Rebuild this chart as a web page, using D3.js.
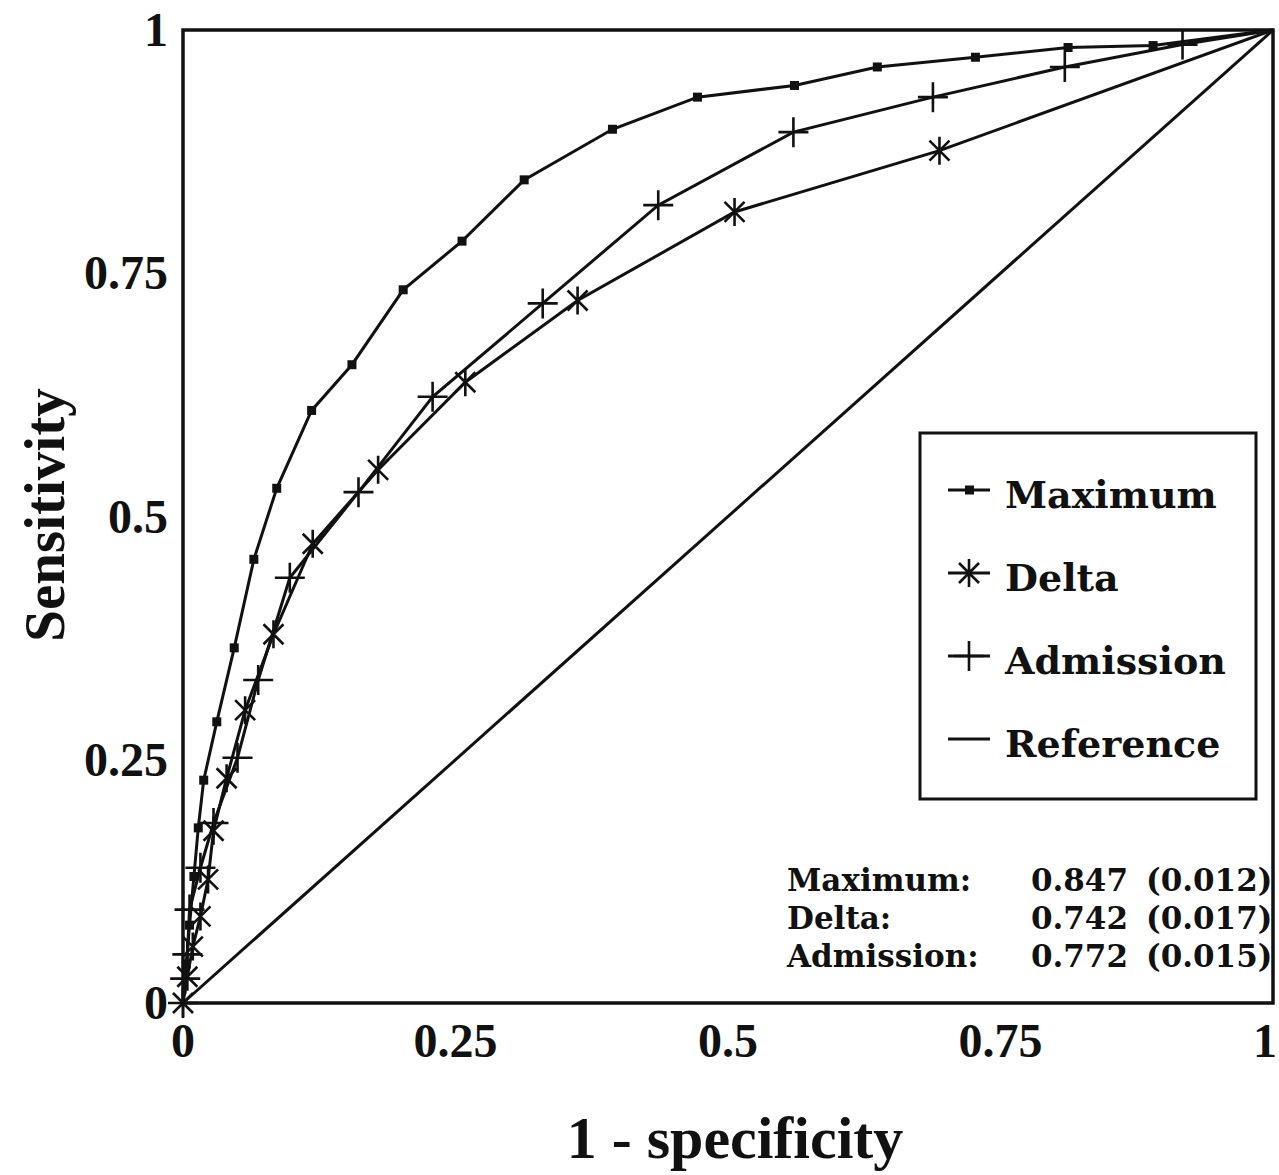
<!DOCTYPE html>
<html>
<head>
<meta charset="utf-8">
<script src="https://cdn.jsdelivr.net/npm/d3@7"></script>
<style>
  body { margin: 0; background: #fff; }
  text { fill: #111; }
  .tick_lbl, .axis_title { font-family: "Liberation Serif", serif; font-weight: bold; }
  .leg_lbl, .auc_lbl { font-family: "DejaVu Serif", serif; font-weight: bold; }
</style>
</head>
<body>
<svg id="chart" width="1279" height="1175"></svg>
<script>
// ROC points (1 - specificity, sensitivity)
var max_fpr = [0, 0.003, 0.006, 0.010, 0.014, 0.019, 0.031, 0.047, 0.065, 0.086, 0.118, 0.155,
               0.202, 0.256, 0.313, 0.394, 0.472, 0.561, 0.637, 0.727, 0.812, 0.890, 1];
var max_tpr = [0, 0.04, 0.08, 0.13, 0.18, 0.229, 0.289, 0.365, 0.456, 0.529, 0.609, 0.656,
               0.733, 0.783, 0.846, 0.898, 0.931, 0.943, 0.962, 0.972, 0.982, 0.984, 1];

var delta_fpr = [0, 0.004, 0.009, 0.016, 0.023, 0.028, 0.040, 0.057, 0.083, 0.119, 0.179,
                 0.259, 0.362, 0.506, 0.694, 1];
var delta_tpr = [0, 0.027, 0.058, 0.089, 0.127, 0.177, 0.231, 0.301, 0.379, 0.472, 0.548,
                 0.638, 0.722, 0.813, 0.876, 1];

var adm_fpr = [0, 0.002, 0.004, 0.006, 0.016, 0.028, 0.050, 0.069, 0.098, 0.161, 0.229,
               0.330, 0.436, 0.560, 0.688, 0.809, 0.917, 1];
var adm_tpr = [0, 0.025, 0.05, 0.096, 0.139, 0.185, 0.252, 0.332, 0.437, 0.525, 0.623,
               0.719, 0.820, 0.895, 0.931, 0.962, 0.985, 1];

var ref_fpr = [0, 1], ref_tpr = [0, 1];

var series_names = ["Maximum", "Delta", "Admission", "Reference"];
var series_marks = ["square", "asterisk", "plus", "none"];
var auc_vals = ["0.847", "0.742", "0.772"];
var auc_se   = ["(0.012)", "(0.017)", "(0.015)"];
var x_ticks = [0, 0.25, 0.5, 0.75, 1];
var y_ticks = [0, 0.25, 0.5, 0.75, 1];
var tick_text = ["0", "0.25", "0.5", "0.75", "1"];

var svg = d3.select("#chart");
var x = d3.scaleLinear().domain([0, 1]).range([183, 1273]),
    y = d3.scaleLinear().domain([0, 1]).range([1003, 30]);

function zip(xs, ys) { return xs.map(function(v, i) { return [v, ys[i]]; }); }
var series = [zip(max_fpr, max_tpr), zip(delta_fpr, delta_tpr),
              zip(adm_fpr, adm_tpr), zip(ref_fpr, ref_tpr)];

// marker path centred on 0,0
function mark_path(kind) {
    var p = d3.path();
    if (kind === "asterisk") {
        var r = 14, d = 10;
        p.moveTo(0, -r); p.lineTo(0, r);
        p.moveTo(-d, -d); p.lineTo(d, d);
        p.moveTo(-d, d); p.lineTo(d, -d);
    } else if (kind === "plus") {
        var r = 15;
        p.moveTo(-r, 0); p.lineTo(r, 0);
        p.moveTo(0, -r); p.lineTo(0, r);
    }
    return p.toString();
}

// frame
svg.append("rect")
    .attr("x", x(0)).attr("y", y(1))
    .attr("width", x(1) - x(0)).attr("height", y(0) - y(1))
    .style("fill", "none").style("stroke", "#111").style("stroke-width", 3.5);

var line = d3.line().x(function(d) { return x(d[0]); }).y(function(d) { return y(d[1]); });

svg.selectAll("path.curve")
    .data(series)
  .enter().append("path")
    .attr("class", "curve")
    .attr("d", line)
    .style("fill", "none").style("stroke", "#111").style("stroke-width", 3);

series.forEach(function(pts, si) {
    var kind = series_marks[si];
    if (kind === "none") return;
    var g = svg.append("g").attr("class", "marks marks" + si);
    if (kind === "square") {
        g.selectAll("rect").data(pts.slice(1, -1)).enter().append("rect")
            .attr("x", function(d) { return x(d[0]) - 4.5; })
            .attr("y", function(d) { return y(d[1]) - 4.5; })
            .attr("width", 9).attr("height", 9)
            .style("fill", "#111");
    } else {
        g.selectAll("path").data(pts.slice(0, -1)).enter().append("path")
            .attr("transform", function(d) { return "translate(" + x(d[0]) + "," + y(d[1]) + ")"; })
            .attr("d", mark_path(kind))
            .style("fill", "none").style("stroke", "#111").style("stroke-width", 2.6);
    }
});

// tick labels (last x label nudged in so it stays on the page)
svg.selectAll("text.xt").data(x_ticks).enter().append("text")
    .attr("class", "tick_lbl xt")
    .attr("x", function(d) { return Math.min(x(d), 1265); }).attr("y", 1057)
    .attr("text-anchor", "middle").style("font-size", "48px")
    .text(function(d, i) { return tick_text[i]; });

svg.selectAll("text.yt").data(y_ticks).enter().append("text")
    .attr("class", "tick_lbl yt")
    .attr("x", 168).attr("y", function(d) { return y(d) + 16; })
    .attr("text-anchor", "end").style("font-size", "48px")
    .text(function(d, i) { return tick_text[i]; });

svg.append("text").attr("class", "axis_title")
    .attr("x", 735).attr("y", 1158).attr("text-anchor", "middle")
    .style("font-size", "60px").text("1 - specificity");

svg.append("text").attr("class", "axis_title")
    .attr("transform", "translate(64,515) rotate(-90)").attr("text-anchor", "middle")
    .style("font-size", "57px").text("Sensitivity");

// legend
var leg = svg.append("g").attr("class", "legend");
leg.append("rect").attr("x", 920).attr("y", 433).attr("width", 336).attr("height", 366)
    .style("fill", "#fff").style("stroke", "#111").style("stroke-width", 3);

var leg_rows = leg.selectAll("g.row").data(series_names).enter().append("g")
    .attr("class", "row")
    .attr("transform", function(d, i) { return "translate(0," + (490 + i * 83) + ")"; });
leg_rows.append("line").attr("x1", 948).attr("x2", 990)
    .style("stroke", "#111").style("stroke-width", 3);
leg_rows.each(function(d, i) {
    var g = d3.select(this), kind = series_marks[i];
    if (kind === "square")
        g.append("rect").attr("x", 965).attr("y", -4.5).attr("width", 9).attr("height", 9).style("fill", "#111");
    else if (kind !== "none")
        g.append("path").attr("transform", "translate(969,0)").attr("d", mark_path(kind))
            .style("fill", "none").style("stroke", "#111").style("stroke-width", 2.6);
});
leg_rows.append("text").attr("class", "leg_lbl")
    .attr("x", 1005).attr("y", 18).style("font-size", "38px")
    .text(function(d) { return d; });

// area under curve (standard error)
var auc = svg.append("g").attr("class", "auc");
auc.selectAll("text.nm").data(auc_vals).enter().append("text")
    .attr("class", "auc_lbl nm").attr("x", 787)
    .attr("y", function(d, i) { return 891 + i * 38; }).style("font-size", "31px")
    .text(function(d, i) { return series_names[i] + ":"; });
auc.selectAll("text.val").data(auc_vals).enter().append("text")
    .attr("class", "auc_lbl val").attr("x", 1128).attr("text-anchor", "end")
    .attr("y", function(d, i) { return 891 + i * 38; }).style("font-size", "31px")
    .text(function(d) { return d; });
auc.selectAll("text.se").data(auc_se).enter().append("text")
    .attr("class", "auc_lbl se").attr("x", 1146)
    .attr("y", function(d, i) { return 891 + i * 38; }).style("font-size", "31px")
    .text(function(d) { return d; });
</script>
</body>
</html>
